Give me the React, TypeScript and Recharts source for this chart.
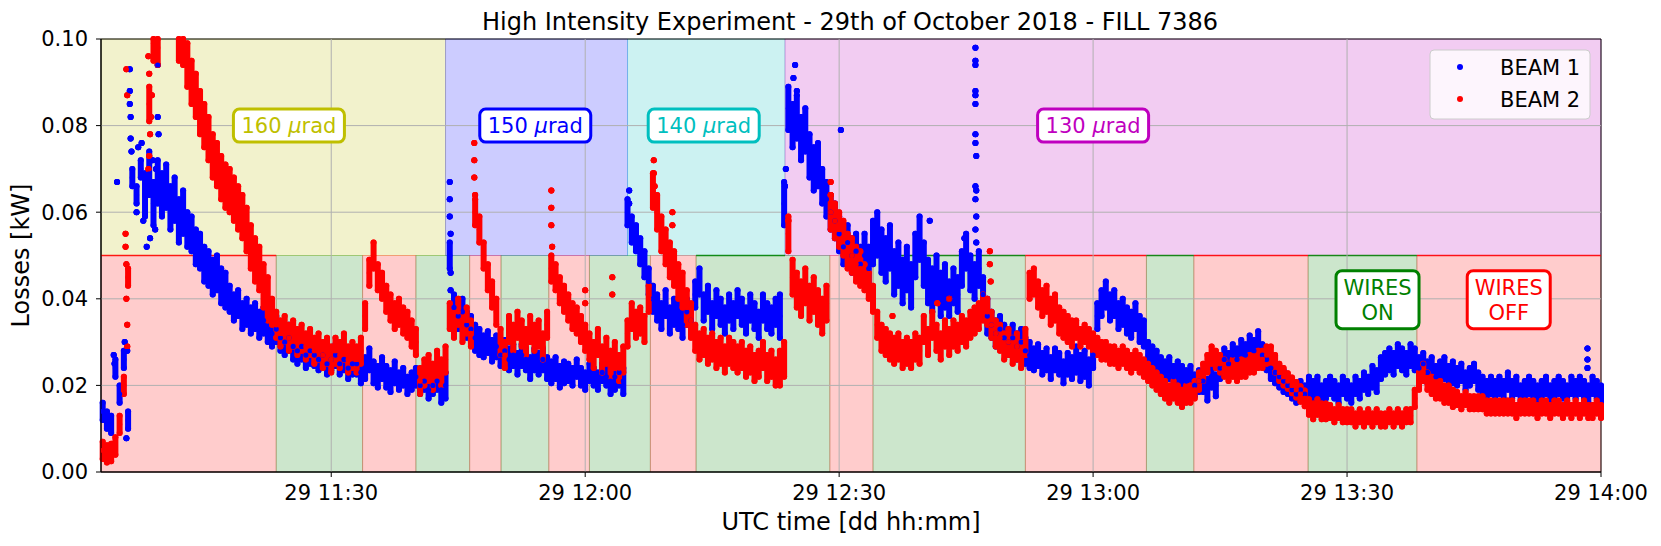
import React from 'react';
import { ScatterChart, Scatter, XAxis, YAxis, ReferenceArea, ReferenceLine, ReferenceDot, Label, ErrorBar } from 'recharts';

const FONT = '"DejaVu Sans", sans-serif';

// loss monitor readings, one every half minute (minutes after midnight)
const SAMPLE_START = 663;
const SAMPLE_STEP = 0.5;
const ROW = 10; // samples per 5 minutes

const beam1Losses = [
  0.014, 0.012, 0.011, 0.024, 0.018, 0.026, 0.012, 0.068, 0.064, 0.070,
  0.064, 0.069, 0.062, 0.067, 0.064, 0.066, 0.061, 0.063, 0.058, 0.060,
  0.056, 0.055, 0.052, 0.051, 0.048, 0.047, 0.045, 0.046, 0.043, 0.042,
  0.040, 0.038, 0.039, 0.036, 0.037, 0.035, 0.036, 0.034, 0.035, 0.033,
  0.032, 0.033, 0.031, 0.030, 0.031, 0.029, 0.028, 0.029, 0.027, 0.028,
  0.027, 0.026, 0.027, 0.025, 0.026, 0.027, 0.025, 0.026, 0.024, 0.025,
  0.025, 0.023, 0.024, 0.026, 0.023, 0.022, 0.024, 0.022, 0.021, 0.023,
  0.021, 0.022, 0.020, 0.021, 0.022, 0.020, 0.021, 0.019, 0.020, 0.021,
  0.019, 0.020, 0.050, 0.038, 0.036, 0.037, 0.034, 0.033, 0.031, 0.030,
  0.029, 0.030, 0.028, 0.029, 0.027, 0.028, 0.026, 0.027, 0.025, 0.027,
  0.026, 0.024, 0.026, 0.025, 0.026, 0.024, 0.023, 0.024, 0.022, 0.023,
  0.023, 0.022, 0.024, 0.022, 0.021, 0.023, 0.022, 0.021, 0.023, 0.022,
  0.021, 0.022, 0.023, 0.021, 0.060, 0.056, 0.054, 0.051, 0.048, 0.044,
  0.040, 0.038, 0.036, 0.039, 0.035, 0.037, 0.036, 0.034, 0.037, 0.035,
  0.041, 0.044, 0.038, 0.040, 0.036, 0.039, 0.037, 0.035, 0.038, 0.036,
  0.039, 0.037, 0.035, 0.038, 0.036, 0.034, 0.038, 0.036, 0.035, 0.037,
  0.036, 0.062, 0.084, 0.080, 0.082, 0.077, 0.079, 0.073, 0.070, 0.071,
  0.066, 0.063, 0.060, 0.058, 0.055, 0.052, 0.053, 0.050, 0.051, 0.048,
  0.050, 0.047, 0.053, 0.055, 0.051, 0.049, 0.052, 0.046, 0.048, 0.044,
  0.047, 0.043, 0.050, 0.054, 0.048, 0.044, 0.042, 0.045, 0.041, 0.043,
  0.040, 0.043, 0.041, 0.047, 0.051, 0.046, 0.044, 0.047, 0.041, 0.036,
  0.034, 0.032, 0.033, 0.031, 0.030, 0.031, 0.029, 0.030, 0.028, 0.027,
  0.026, 0.027, 0.025, 0.026, 0.024, 0.026, 0.025, 0.023, 0.025, 0.024,
  0.026, 0.024, 0.025, 0.023, 0.027, 0.036, 0.039, 0.041, 0.038, 0.039,
  0.036, 0.037, 0.035, 0.034, 0.036, 0.033, 0.032, 0.027, 0.026, 0.025,
  0.024, 0.023, 0.024, 0.022, 0.023, 0.022, 0.021, 0.022, 0.020, 0.021,
  0.021, 0.019, 0.022, 0.020, 0.024, 0.026, 0.025, 0.027, 0.026, 0.028,
  0.027, 0.029, 0.028, 0.030, 0.027, 0.026, 0.024, 0.023, 0.022, 0.021,
  0.020, 0.019, 0.018, 0.019, 0.018, 0.020, 0.019, 0.020, 0.018, 0.019,
  0.020, 0.019, 0.018, 0.020, 0.019, 0.018, 0.020, 0.019, 0.021, 0.020,
  0.022, 0.021, 0.024, 0.025, 0.026, 0.025, 0.027, 0.026, 0.025, 0.027,
  0.026, 0.024, 0.025, 0.023, 0.024, 0.022, 0.023, 0.024, 0.022, 0.023,
  0.022, 0.023, 0.021, 0.022, 0.023, 0.021, 0.020, 0.019, 0.020, 0.019,
  0.020, 0.019, 0.021, 0.019, 0.020, 0.018, 0.019, 0.020, 0.019, 0.018,
  0.019, 0.020, 0.018, 0.019, 0.020, 0.019, 0.018, 0.020, 0.019, 0.020,
  0.019, 0.018, 0.020, 0.019, 0.018,
];

const beam2Losses = [
  0.0050, 0.0042, 0.0045, 0.0060, 0.0110, 0.0200, 0.0450, 0.106, 0.112, 0.108,
  0.104, 0.085, 0.099, 0.098, 0.103, 0.108, 0.105, 0.101, 0.099, 0.098,
  0.094, 0.090, 0.087, 0.083, 0.080, 0.077, 0.073, 0.071, 0.068, 0.066,
  0.065, 0.063, 0.061, 0.059, 0.056, 0.052, 0.049, 0.047, 0.043, 0.040,
  0.037, 0.034, 0.032, 0.033, 0.031, 0.032, 0.030, 0.031, 0.029, 0.030,
  0.028, 0.029, 0.027, 0.028, 0.026, 0.028, 0.027, 0.029, 0.026, 0.027,
  0.026, 0.028, 0.036, 0.046, 0.050, 0.045, 0.043, 0.040, 0.038, 0.036,
  0.037, 0.035, 0.034, 0.032, 0.030, 0.021, 0.023, 0.024, 0.022, 0.025,
  0.023, 0.026, 0.036, 0.034, 0.037, 0.033, 0.035, 0.032, 0.060, 0.056,
  0.050, 0.045, 0.041, 0.037, 0.030, 0.027, 0.033, 0.031, 0.034, 0.032,
  0.030, 0.033, 0.031, 0.032, 0.029, 0.034, 0.047, 0.045, 0.042, 0.040,
  0.038, 0.036, 0.035, 0.033, 0.031, 0.029, 0.027, 0.030, 0.026, 0.028,
  0.025, 0.027, 0.024, 0.026, 0.032, 0.036, 0.034, 0.035, 0.033, 0.040,
  0.065, 0.060, 0.055, 0.052, 0.049, 0.047, 0.044, 0.042, 0.038, 0.035,
  0.031, 0.029, 0.030, 0.028, 0.029, 0.027, 0.028, 0.026, 0.028, 0.027,
  0.026, 0.027, 0.025, 0.026, 0.024, 0.025, 0.027, 0.024, 0.025, 0.023,
  0.024, 0.026, 0.055, 0.045, 0.042, 0.040, 0.043, 0.039, 0.041, 0.038,
  0.036, 0.039, 0.060, 0.058, 0.056, 0.054, 0.051, 0.050, 0.048, 0.047,
  0.045, 0.043, 0.040, 0.034, 0.031, 0.030, 0.029, 0.028, 0.029, 0.027,
  0.028, 0.027, 0.029, 0.028, 0.033, 0.030, 0.034, 0.031, 0.029, 0.032,
  0.030, 0.032, 0.031, 0.033, 0.032, 0.034, 0.035, 0.036, 0.038, 0.037,
  0.034, 0.032, 0.031, 0.029, 0.030, 0.028, 0.029, 0.027, 0.030, 0.043,
  0.044, 0.041, 0.039, 0.040, 0.037, 0.038, 0.035, 0.034, 0.033, 0.032,
  0.033, 0.031, 0.032, 0.031, 0.030, 0.029, 0.028, 0.028, 0.027, 0.027,
  0.026, 0.027, 0.026, 0.025, 0.026, 0.025, 0.024, 0.023, 0.022, 0.021,
  0.020, 0.019, 0.018, 0.019, 0.018, 0.017, 0.018, 0.018, 0.019, 0.021,
  0.023, 0.025, 0.027, 0.026, 0.025, 0.024, 0.023, 0.024, 0.023, 0.024,
  0.024, 0.025, 0.025, 0.026, 0.026, 0.027, 0.027, 0.025, 0.023, 0.022,
  0.021, 0.020, 0.019, 0.018, 0.017, 0.015, 0.014, 0.015, 0.014, 0.014,
  0.014, 0.013, 0.014, 0.013, 0.013, 0.013, 0.012, 0.013, 0.012, 0.013,
  0.012, 0.013, 0.012, 0.012, 0.013, 0.012, 0.013, 0.012, 0.013, 0.013,
  0.017, 0.021, 0.023, 0.021, 0.020, 0.019, 0.019, 0.018, 0.018, 0.017,
  0.017, 0.016, 0.017, 0.016, 0.016, 0.016, 0.016, 0.015, 0.015, 0.015,
  0.015, 0.015, 0.015, 0.015, 0.014, 0.015, 0.015, 0.015, 0.015, 0.014,
  0.015, 0.015, 0.014, 0.015, 0.015, 0.014, 0.015, 0.014, 0.015, 0.014,
  0.015, 0.014, 0.014, 0.015, 0.014,
];

// scatter of the readings around each sample (half width, kW), one value per 5 minutes
const beam1Spread = [
  0.002, 0.005, 0.004, 0.003, 0.003, 0.0025, 0.0025, 0.002, 0.003, 0.0025,
  0.0025, 0.002, 0.003, 0.003, 0.003, 0.003, 0.005, 0.004, 0.005, 0.005,
  0.004, 0.003, 0.0025, 0.003, 0.003, 0.0025, 0.0025, 0.0025, 0.002, 0.002,
  0.0025, 0.0025, 0.002, 0.002, 0.002, 0.002,
];
const beam2Spread = [
  0.002, 0.004, 0.005, 0.005, 0.003, 0.003, 0.003, 0.003, 0.003, 0.003,
  0.003, 0.003, 0.003, 0.004, 0.003, 0.003, 0.004, 0.004, 0.003, 0.003,
  0.003, 0.003, 0.003, 0.002, 0.002, 0.002, 0.002, 0.002, 0.0018, 0.0015,
  0.0015, 0.002, 0.0015, 0.0015, 0.0015, 0.0015,
];

// short bursts in between the regular samples: [minute, kW]
const beam1Bursts = [
  [664.3, 0.027], [664.4, 0.025], [664.7, 0.067], [665.6, 0.030], [665.8, 0.0078], [665.9, 0.028],
  [666.2, 0.093], [666.2, 0.088], [666.3, 0.082], [666.3, 0.077], [666.2, 0.085], [666.4, 0.074],
  [667.0, 0.060], [667.2, 0.075], [667.6, 0.076], [667.8, 0.058], [668.2, 0.052], [668.6, 0.054],
  [668.9, 0.072], [669.2, 0.056], [669.3, 0.070], [669.5, 0.094], [669.5, 0.082], [669.6, 0.078],
  [704.0, 0.067], [704.0, 0.063], [704.0, 0.059], [704.1, 0.055], [704.1, 0.046], [704.1, 0.042],
  [725.2, 0.065], [725.2, 0.062],
  [743.6, 0.066], [743.7, 0.070], [744.6, 0.091], [744.8, 0.094], [745.0, 0.088],
  [750.2, 0.079], [760.7, 0.058], [764.8, 0.054],
  [766.1, 0.098], [766.1, 0.095], [766.1, 0.094], [766.1, 0.088], [766.1, 0.087], [766.1, 0.085],
  [766.1, 0.078], [766.1, 0.076], [766.2, 0.073], [766.1, 0.066], [766.2, 0.065], [766.1, 0.063],
  [766.2, 0.059], [766.1, 0.056], [766.2, 0.053],
  [838.4, 0.0285], [838.4, 0.026], [838.4, 0.024],
];

const beam2Bursts = [
  [665.7, 0.055], [665.7, 0.052], [665.8, 0.048], [665.8, 0.040], [665.9, 0.034], [665.9, 0.029],
  [665.8, 0.093], [665.9, 0.087],
  [668.4, 0.070], [668.5, 0.073], [668.6, 0.078], [668.7, 0.082], [668.8, 0.087], [668.5, 0.092], [668.4, 0.096],
  [706.9, 0.076], [706.9, 0.072], [706.9, 0.068], [707.0, 0.064],
  [716.0, 0.065], [716.0, 0.061], [716.0, 0.057], [716.1, 0.052],
  [720.0, 0.042], [720.0, 0.039], [723.2, 0.045], [723.2, 0.041],
  [728.1, 0.072], [728.1, 0.069], [728.2, 0.066], [728.3, 0.062], [730.3, 0.060], [730.3, 0.057],
  [744.0, 0.058], [749.0, 0.067], [749.0, 0.064],
  [756.3, 0.036], [761.6, 0.039], [763.0, 0.040],
  [767.8, 0.051], [767.8, 0.048], [767.9, 0.044],
];

const timeTicks = [690, 720, 750, 780, 810, 840];
const lossTicks = [0, 0.02, 0.04, 0.06, 0.08, 0.1];
const T_START = 662.8;
const T_END = 840;
const LOSS_MAX = 0.1;

// crossing angle steps (µrad)
const angleSteps = [
  { from: 662.8, to: 703.5, angle: 160, labelAt: 685 },
  { from: 703.5, to: 725.0, angle: 150, labelAt: 714.1 },
  { from: 725.0, to: 743.6, angle: 140, labelAt: 734 },
  { from: 743.6, to: 840, angle: 130, labelAt: 780 },
];

// wire compensator state
const wireStates = [
  { from: 662.8, to: 683.5, on: false },
  { from: 683.5, to: 693.7, on: true },
  { from: 693.7, to: 700.0, on: false },
  { from: 700.0, to: 706.35, on: true },
  { from: 706.35, to: 710.06, on: false },
  { from: 710.06, to: 715.7, on: true },
  { from: 715.7, to: 720.5, on: false },
  { from: 720.5, to: 727.7, on: true },
  { from: 727.7, to: 733.1, on: false },
  { from: 733.1, to: 748.9, on: true },
  { from: 748.9, to: 754.0, on: false },
  { from: 754.0, to: 772.0, on: true },
  { from: 772.0, to: 786.3, on: false },
  { from: 786.3, to: 791.9, on: true },
  { from: 791.9, to: 805.4, on: false },
  { from: 805.4, to: 818.25, on: true },
  { from: 818.25, to: 840, on: false },
];

// parts of the 0.05 border that show up in the plot
const wireEdges = [
  { from: 662.8, to: 683.5, on: false },
  { from: 733.1, to: 743.6, on: true },
  { from: 754.0, to: 772.0, on: true },
  { from: 772.0, to: 786.3, on: false },
  { from: 786.3, to: 791.9, on: true },
  { from: 791.9, to: 805.4, on: false },
  { from: 805.4, to: 818.25, on: true },
  { from: 818.25, to: 840, on: false },
];

const angleColors: Record<number, string> = { 160: '#bfbf00', 150: '#0000ff', 140: '#00bfbf', 130: '#bf00bf' };
const WIRE_ON = '#008000';
const WIRE_OFF = '#ff0000';
const BEAM1 = '#0000ff';
const BEAM2 = '#ff0000';

// readings above the axis limit are left out, like the clipped plot
const toPoints = (values: number[], spread: number[], bursts: number[][]) =>
  values.map((v, i) => ({ t: SAMPLE_START + i * SAMPLE_STEP, v, s: spread[Math.floor(i / ROW)] }))
    .concat(bursts.map(([t, v]) => ({ t, v, s: 0 })))
    .filter((p) => p.v <= LOSS_MAX)
    .map((p) => ({ t: p.t, v: p.v, spread: [Math.min(p.s, p.v), Math.min(p.s, LOSS_MAX - p.v)] }));

const beam1Points = toPoints(beam1Losses, beam1Spread, beam1Bursts);
const beam2Points = toPoints(beam2Losses, beam2Spread, beam2Bursts);

const formatTime = (m: number) => `29 ${Math.floor(m / 60)}:${String(Math.round(m % 60)).padStart(2, '0')}`;

function Dot(color: string) {
  return (p: any) => <circle cx={p.cx} cy={p.cy} r={2.6} fill={color} />;
}

function TagBox({ cx, cy, lines, color, width, height }: any) {
  const lineGap = 25;
  const first = cy - ((lines.length - 1) * lineGap) / 2;
  return (
    <g>
      <rect x={cx - width / 2} y={cy - height / 2} width={width} height={height} rx={6} ry={6}
        fill="#ffffff" stroke={color} strokeWidth={3} />
      {lines.map((ln: React.ReactNode, i: number) => (
        <text key={i} x={cx} y={first + i * lineGap + 7.5} textAnchor="middle"
          fontSize={21} fontFamily={FONT} fill={color}>{ln}</text>
      ))}
    </g>
  );
}

const XTitle = (props: any) => {
  const vb = props.viewBox || {};
  return <text x={vb.x + vb.width / 2} y={530} textAnchor="middle" fontSize={24} fontFamily={FONT} fill="#000">UTC time [dd hh:mm]</text>;
};

const YTitle = (props: any) => {
  const vb = props.viewBox || {};
  const cy = vb.y + vb.height / 2;
  return <text x={29} y={cy} transform={`rotate(-90 29 ${cy})`} textAnchor="middle" fontSize={24} fontFamily={FONT} fill="#000">Losses [kW]</text>;
};

export default function App() {
  const tickStyle = { fill: '#000', fontSize: 21, fontFamily: FONT };
  return (
    <div style={{ position: 'absolute', left: 0, top: 0, width: 1661, height: 546, background: '#fff' }}>
      <ScatterChart width={1661} height={546} margin={{ top: 39, right: 60, bottom: 0, left: 0 }}>
        <XAxis type="number" dataKey="t" domain={[T_START, T_END]} ticks={timeTicks} tickFormatter={formatTime}
          allowDataOverflow height={74} tick={tickStyle} tickSize={5} tickMargin={8}
          stroke="#000" axisLine={{ stroke: '#000' }} tickLine={{ stroke: '#000' }}>
          <Label content={XTitle} />
        </XAxis>
        <YAxis type="number" dataKey="v" domain={[0, LOSS_MAX]} ticks={lossTicks} tickFormatter={(v: number) => v.toFixed(2)}
          allowDataOverflow width={101} tick={tickStyle} tickSize={5} tickMargin={8}
          stroke="#000" axisLine={{ stroke: '#000' }} tickLine={{ stroke: '#000' }}>
          <Label content={YTitle} />
        </YAxis>

        {angleSteps.map((s) => (
          <ReferenceArea key={'a' + s.angle} x1={s.from} x2={s.to} y1={0.05} y2={LOSS_MAX}
            fill={angleColors[s.angle]} fillOpacity={0.2} stroke={angleColors[s.angle]} strokeOpacity={0.25} />
        ))}
        {wireStates.map((s, i) => (
          <ReferenceArea key={'w' + i} x1={s.from} x2={s.to} y1={0} y2={0.05}
            fill={s.on ? WIRE_ON : WIRE_OFF} fillOpacity={0.2} stroke={s.on ? WIRE_ON : WIRE_OFF} strokeOpacity={0.25} />
        ))}
        {wireEdges.map((s, i) => (
          <ReferenceLine key={'e' + i} segment={[{ x: s.from, y: 0.05 }, { x: s.to, y: 0.05 }]}
            stroke={s.on ? WIRE_ON : WIRE_OFF} strokeOpacity={0.85} strokeWidth={1.3} />
        ))}
        {timeTicks.slice(0, -1).map((t) => (
          <ReferenceLine key={'gx' + t} x={t} stroke="#b0b0b0" strokeWidth={1} />
        ))}
        {lossTicks.slice(1, -1).map((v) => (
          <ReferenceLine key={'gy' + v} y={v} stroke="#b0b0b0" strokeWidth={1} />
        ))}

        <Scatter name="BEAM 1" data={beam1Points} fill={BEAM1} shape={Dot(BEAM1)} isAnimationActive={false}>
          <ErrorBar dataKey="spread" direction="y" width={0} stroke={BEAM1} strokeWidth={6}
            strokeLinecap="round" isAnimationActive={false} />
        </Scatter>
        <Scatter name="BEAM 2" data={beam2Points} fill={BEAM2} shape={Dot(BEAM2)} isAnimationActive={false}>
          <ErrorBar dataKey="spread" direction="y" width={0} stroke={BEAM2} strokeWidth={6}
            strokeLinecap="round" isAnimationActive={false} />
        </Scatter>

        {angleSteps.map((s) => (
          <ReferenceDot key={'l' + s.angle} x={s.labelAt} y={0.08} r={0}
            shape={(p: any) => (
              <TagBox cx={p.cx} cy={p.cy} width={111} height={33} color={angleColors[s.angle]}
                lines={[<>{s.angle} <tspan fontStyle="italic">µ</tspan>rad</>]} />
            )} />
        ))}
        <ReferenceDot x={813.6} y={0.0398} r={0}
          shape={(p: any) => <TagBox cx={p.cx} cy={p.cy} width={83} height={58} color={WIRE_ON} lines={['WIRES', 'ON']} />} />
        <ReferenceDot x={829.1} y={0.0398} r={0}
          shape={(p: any) => <TagBox cx={p.cx} cy={p.cy} width={83} height={58} color={WIRE_OFF} lines={['WIRES', 'OFF']} />} />

        <ReferenceArea x1={T_START} x2={T_END} y1={0} y2={LOSS_MAX} fill="none" stroke="#000" strokeWidth={1} />
      </ScatterChart>

      <svg width={1661} height={546} style={{ position: 'absolute', left: 0, top: 0, pointerEvents: 'none' }}>
        <text x={850} y={30} textAnchor="middle" fontSize={24} fontFamily={FONT} fill="#000">
          High Intensity Experiment - 29th of October 2018 - FILL 7386
        </text>
        <rect x={1430} y={50} width={160} height={69} rx={4} fill="#ffffff" fillOpacity={0.8} stroke="#cccccc" />
        {[{ name: 'BEAM 1', color: BEAM1 }, { name: 'BEAM 2', color: BEAM2 }].map((it, i) => (
          <g key={it.name}>
            <circle cx={1460} cy={67 + i * 32} r={3} fill={it.color} />
            <text x={1500} y={74.5 + i * 32} fontSize={21} fontFamily={FONT} fill="#000">{it.name}</text>
          </g>
        ))}
      </svg>
    </div>
  );
}
